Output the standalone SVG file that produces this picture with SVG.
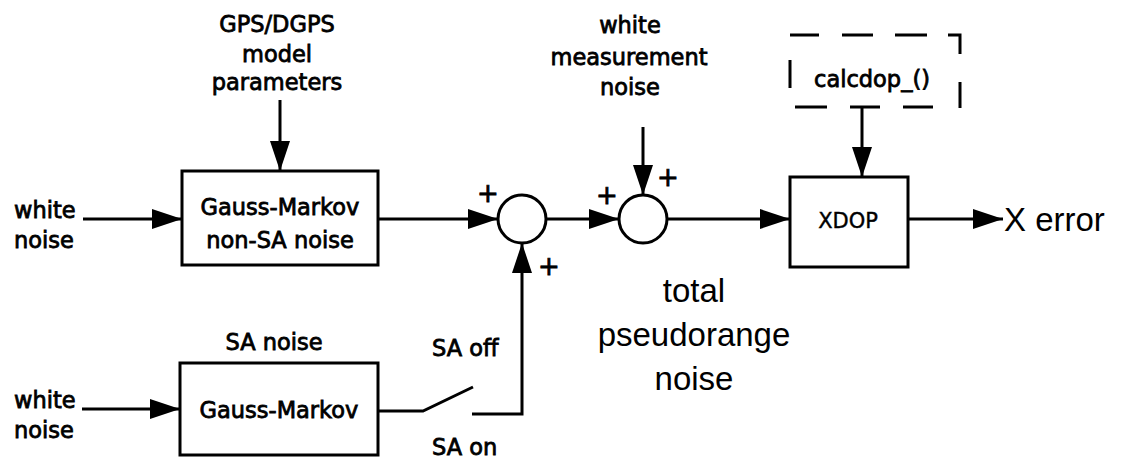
<svg xmlns="http://www.w3.org/2000/svg" width="1121" height="465" viewBox="0 0 1121 465">
<style>
.lbl{font-family:"DejaVu Sans",Verdana,sans-serif;font-size:22.5px;fill:#000;stroke:#000;stroke-width:0.8}
.big{font-family:"Liberation Sans",Arial,sans-serif;font-size:33px;fill:#000}
.plus{font-family:"DejaVu Sans",sans-serif;font-size:26px;fill:#000;stroke:#000;stroke-width:0.8}
.c{text-anchor:middle}
.box{fill:#fff;stroke:#000;stroke-width:3}
.wire{fill:none;stroke:#000;stroke-width:3}
.arr{fill:none;stroke:#000;stroke-width:3;marker-end:url(#ah)}
.dash{fill:none;stroke:#000;stroke-width:3}
</style>
<defs>
<marker id="ah" markerUnits="userSpaceOnUse" markerWidth="30" markerHeight="20" refX="30" refY="10" orient="auto">
<path d="M0,0 L30,10 L0,20 z" fill="#000"/>
</marker>
</defs>
<rect width="1121" height="465" fill="#fff"/>

<g id="connectors">
<line class="arr" x1="83" y1="219" x2="182" y2="219"/>
<line class="arr" x1="280" y1="100" x2="280" y2="171"/>
<line class="arr" x1="378" y1="219" x2="498" y2="219"/>
<line class="arr" x1="546" y1="219" x2="619" y2="219"/>
<line class="arr" x1="643" y1="127" x2="643" y2="195"/>
<line class="arr" x1="667" y1="219" x2="790" y2="219"/>
<line class="arr" x1="862" y1="107" x2="862" y2="177"/>
<line class="arr" x1="908" y1="219" x2="1003" y2="219"/>
<line class="arr" x1="82" y1="409" x2="180" y2="409"/>
<polyline class="wire" points="378,411 423,411 473,387"/>
<polyline class="arr" points="472,414 522,414 522,243"/>
</g>

<g id="gps-params">
<text class="lbl c" x="277" y="32">GPS/DGPS</text>
<text class="lbl c" x="277" y="62">model</text>
<text class="lbl c" x="277" y="90">parameters</text>
</g>

<g id="white-noise-1">
<text class="lbl" x="14" y="218">white</text>
<text class="lbl" x="14" y="248">noise</text>
</g>

<g id="gm-nonsa">
<rect class="box" x="182" y="171" width="196" height="94"/>
<text class="lbl c" x="280" y="215">Gauss-Markov</text>
<text class="lbl c" x="280" y="248">non-SA noise</text>
</g>

<g id="white-noise-2">
<text class="lbl" x="14" y="408">white</text>
<text class="lbl" x="14" y="438">noise</text>
</g>

<g id="gm-sa">
<text class="lbl c" x="274" y="350">SA noise</text>
<rect class="box" x="180" y="363" width="198" height="92"/>
<text class="lbl c" x="279" y="418">Gauss-Markov</text>
</g>

<g id="switch">
<text class="lbl" x="432" y="356">SA off</text>
<text class="lbl" x="432" y="455">SA on</text>
</g>

<g id="sum1">
<circle class="box" cx="522" cy="219" r="24"/>
<text class="plus c" x="488" y="202">+</text>
<text class="plus c" x="549" y="275">+</text>
</g>

<g id="meas-noise">
<text class="lbl c" x="630" y="33">white</text>
<text class="lbl c" x="629" y="65">measurement</text>
<text class="lbl c" x="630" y="95">noise</text>
</g>

<g id="sum2">
<circle class="box" cx="643" cy="219" r="24"/>
<text class="plus c" x="607" y="204">+</text>
<text class="plus c" x="668" y="186">+</text>
</g>

<g id="total-noise">
<text class="big c" x="694" y="302">total</text>
<text class="big c" x="694" y="346">pseudorange</text>
<text class="big c" x="694" y="390">noise</text>
</g>

<g id="calcdop">
<path class="dash" d="M790,35 H819 M842,35 H873 M895,35 H927 M948,35 H960 V54 M960,82 V108 M795,107 H827 M850,107 H880 M903,107 H933 M790,60 V88"/>
<text class="lbl c" x="872" y="87">calcdop_()</text>
</g>

<g id="xdop">
<rect class="box" x="790" y="177" width="118" height="90"/>
<text class="lbl c" x="848" y="228" style="font-size:21px;stroke-width:0.4">XDOP</text>
</g>

<g id="x-error">
<text class="big" x="1004" y="231">X error</text>
</g>
</svg>
